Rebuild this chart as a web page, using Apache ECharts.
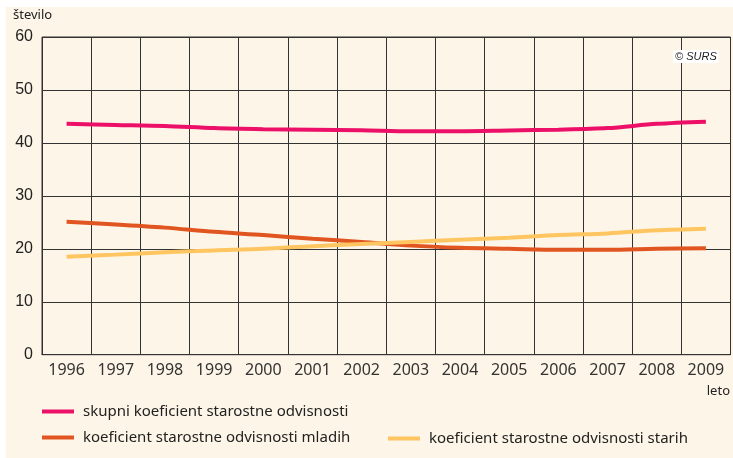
<!DOCTYPE html>
<html><head><meta charset="utf-8">
<script src="https://cdn.jsdelivr.net/npm/echarts@6/dist/echarts.min.js"></script>
<style>html,body{margin:0;padding:0;background:#fff}#c{width:733px;height:458px}</style>
</head><body><div id="c"></div>
<script>
const years = ['1996','1997','1998','1999','2000','2001','2002','2003','2004','2005','2006','2007','2008','2009'];
const skupni = [43.6, 43.4, 43.2, 42.8, 42.6, 42.5, 42.4, 42.2, 42.2, 42.35, 42.5, 42.8, 43.6, 44.0];
const mladih = [25.1, 24.6, 24.0, 23.2, 22.6, 21.9, 21.3, 20.6, 20.2, 20.0, 19.8, 19.8, 20.0, 20.1];
const starih = [18.5, 18.9, 19.35, 19.7, 20.0, 20.5, 20.9, 21.3, 21.7, 22.1, 22.6, 22.9, 23.5, 23.8];
const seriesNames = ['skupni koeficient starostne odvisnosti','koeficient starostne odvisnosti mladih','koeficient starostne odvisnosti starih'];
const yTicks = [0, 10, 20, 30, 40, 50, 60];
const colors = ['#ec1068', '#e05520', '#fec561'];

const chart = echarts.init(document.getElementById('c'), null, {renderer: 'canvas'});
const font = '"Noto Sans", "Open Sans", sans-serif';
chart.setOption({
  animation: false,
  backgroundColor: '#ffffff',
  graphic: [
    {type: 'rect', left: 6, top: 7, z: -10, silent: true, shape: {width: 727, height: 451}, style: {fill: '#fdf5e7'}},
    {type: 'text', left: 13, top: 9, style: {text: 'število', font: '13px ' + font, fill: '#222'}},
    {type: 'text', right: 3, top: 385, style: {text: 'leto', font: '13px ' + font, fill: '#222'}},
    {type: 'text', left: 673, top: 50, z: 10, style: {text: '© SURS', font: 'italic 11px "Liberation Sans", Arial, sans-serif', fill: '#222', backgroundColor: '#ffffff', padding: [1, 2, 1, 2]}}
  ],
  grid: {left: 42, right: 2.5, top: 37, bottom: 103.3, show: true, borderColor: '#333', borderWidth: 1, backgroundColor: 'transparent'},
  xAxis: {
    type: 'category', data: years, boundaryGap: true,
    axisLine: {show: true, lineStyle: {color: '#333', width: 1}},
    axisTick: {show: false},
    splitLine: {show: true, lineStyle: {color: '#333', width: 1}},
    axisLabel: {color: '#333', fontSize: 16, fontFamily: font, margin: 8, interval: 0}
  },
  yAxis: {
    type: 'value', min: yTicks[0], max: yTicks[yTicks.length - 1], interval: 10,
    axisLine: {show: false}, axisTick: {show: false},
    splitLine: {show: true, lineStyle: {color: '#333', width: 1}},
    axisLabel: {color: '#222', fontSize: 16, fontFamily: '"Liberation Sans", Arial, sans-serif', margin: 9, padding: [0, 0, 6, 0]}
  },
  legend: [
    {data: [seriesNames[0], seriesNames[1]], orient: 'vertical', left: 42, top: 404, padding: 0, itemGap: 11,
     itemWidth: 32, itemHeight: 4, icon: 'rect',
     textStyle: {fontSize: 15, fontFamily: font, color: '#222', padding: [0, 0, 0, 4]}},
    {data: [seriesNames[2]], orient: 'vertical', left: 388, top: 431, padding: 0,
     itemWidth: 32, itemHeight: 4, icon: 'rect',
     textStyle: {fontSize: 15, fontFamily: font, color: '#222', padding: [0, 0, 0, 4]}}
  ],
  series: [
    {name: seriesNames[0], type: 'line', data: skupni, smooth: 0.3, showSymbol: false, color: colors[0], lineStyle: {width: 4, color: colors[0]}},
    {name: seriesNames[1], type: 'line', data: mladih, smooth: 0.3, showSymbol: false, color: colors[1], lineStyle: {width: 4, color: colors[1]}},
    {name: seriesNames[2], type: 'line', data: starih, smooth: 0.3, showSymbol: false, color: colors[2], lineStyle: {width: 4, color: colors[2]}}
  ]
});
</script></body></html>
